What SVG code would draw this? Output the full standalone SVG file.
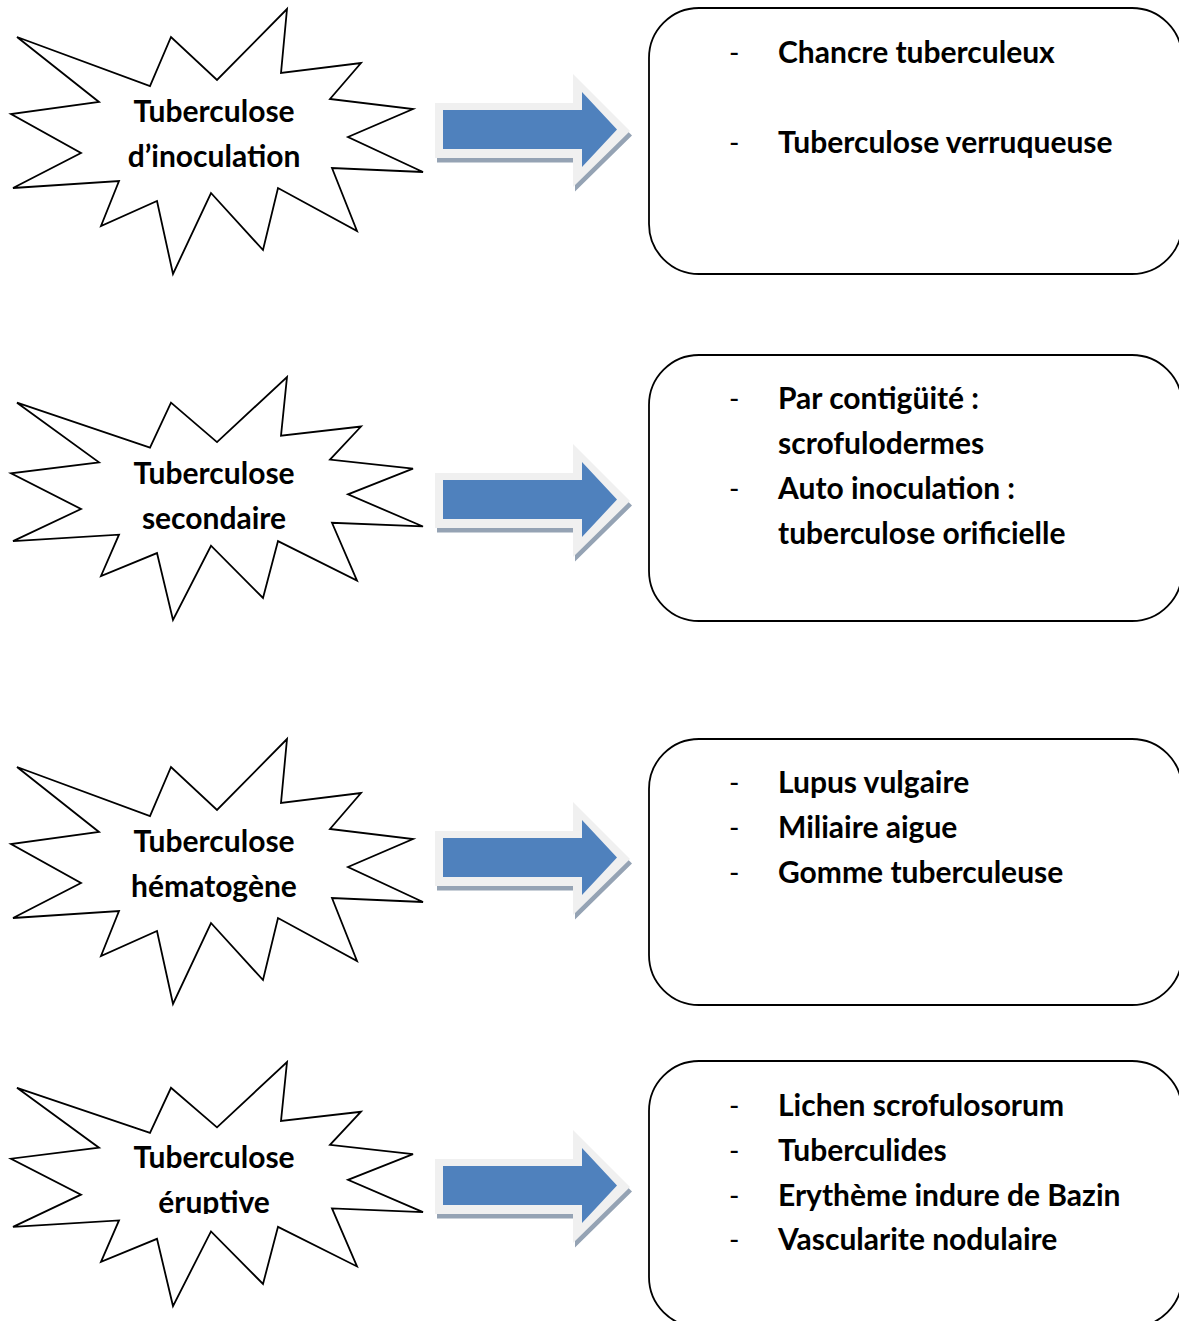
<svg xmlns="http://www.w3.org/2000/svg" xmlns:xlink="http://www.w3.org/1999/xlink" width="1179" height="1321" viewBox="0 0 1179 1321">
<style>
.star{fill:#fff;stroke:#000;stroke-width:1.8;stroke-linejoin:miter;vector-effect:non-scaling-stroke}
.box{fill:#fff;stroke:#000;stroke-width:1.8}
.t{font-family:Lato,"Open Sans","Liberation Sans",sans-serif;font-weight:700;font-size:30px;fill:#000}
.c{text-anchor:middle}
.d{font-family:Lato,"Liberation Sans",sans-serif;font-weight:400;font-size:28px;fill:#000}
.sh{fill:#95a3b4}
.ol{fill:#f0f0f0}
.bl{fill:#4f81bd}
</style>
<defs>
<polygon id="starShape" class="star" points="17,37 150,86 171,37 217,80 287,9 281,73 361,63 330,99 413,109 348,137 423,172 332,168 357,231 278,188 263,250 211,193 173,274 157,201 101,226 119,181 13,188 81,153 11,114 99,102"/>
<g id="arrowShape">
<polygon class="sh" points="437,107.5 575,107.5 575,78.5 632,135.5 575,191.5 575,162.5 437,162.5"/>
<polygon class="ol" points="435,103 573,103 573,74 630,131 573,187 573,158 435,158"/>
<polygon class="bl" points="443,110 582,110 582,92 617,129.5 582,167 582,149 443,149"/>
</g>
<clipPath id="clipErupt"><rect x="0" y="1000" width="430" height="214"/></clipPath>
</defs>
<rect width="1179" height="1321" fill="#fff"/>

<g id="connectors">
<use xlink:href="#arrowShape" href="#arrowShape"/>
<use xlink:href="#arrowShape" href="#arrowShape" transform="translate(0,370)"/>
<use xlink:href="#arrowShape" href="#arrowShape" transform="translate(0,728)"/>
<use xlink:href="#arrowShape" href="#arrowShape" transform="translate(0,1056)"/>
</g>

<g id="star-inoculation">
<use xlink:href="#starShape" href="#starShape"/>
<text class="t c" x="214" y="122">Tuberculose</text>
<text class="t c" x="214" y="167">d’inoculation</text>
</g>
<g id="star-secondaire">
<use xlink:href="#starShape" href="#starShape" transform="translate(0,377) scale(1,0.917) translate(0,-9)"/>
<text class="t c" x="214" y="484">Tuberculose</text>
<text class="t c" x="214" y="529">secondaire</text>
</g>
<g id="star-hematogene">
<use xlink:href="#starShape" href="#starShape" transform="translate(0,730)"/>
<text class="t c" x="214" y="852">Tuberculose</text>
<text class="t c" x="214" y="897">hématogène</text>
</g>
<g id="star-eruptive">
<use xlink:href="#starShape" href="#starShape" transform="translate(0,1062) scale(1,0.921) translate(0,-9)"/>
<text class="t c" x="214" y="1168">Tuberculose</text>
<text class="t c" x="214" y="1213" clip-path="url(#clipErupt)">éruptive</text>
</g>

<g id="box-inoculation">
<rect class="box" x="649" y="8" width="533" height="266" rx="50" ry="50"/>
<text class="d" x="729" y="63">-</text>
<text class="t" x="778" y="63">Chancre tuberculeux</text>
<text class="d" x="729" y="153">-</text>
<text class="t" x="778" y="153">Tuberculose verruqueuse</text>
</g>
<g id="box-secondaire">
<rect class="box" x="649" y="355" width="533" height="266" rx="50" ry="50"/>
<text class="d" x="729" y="409">-</text>
<text class="t" x="778" y="409">Par contigüité :</text>
<text class="t" x="778" y="454">scrofulodermes</text>
<text class="d" x="729" y="499">-</text>
<text class="t" x="778" y="499">Auto inoculation :</text>
<text class="t" x="778" y="544">tuberculose orificielle</text>
</g>
<g id="box-hematogene">
<rect class="box" x="649" y="739" width="533" height="266" rx="50" ry="50"/>
<text class="d" x="729" y="793">-</text>
<text class="t" x="778" y="793">Lupus vulgaire</text>
<text class="d" x="729" y="838">-</text>
<text class="t" x="778" y="838">Miliaire aigue</text>
<text class="d" x="729" y="883">-</text>
<text class="t" x="778" y="883">Gomme tuberculeuse</text>
</g>
<g id="box-eruptive">
<rect class="box" x="649" y="1061" width="533" height="266" rx="50" ry="50"/>
<text class="d" x="729" y="1116">-</text>
<text class="t" x="778" y="1116">Lichen scrofulosorum</text>
<text class="d" x="729" y="1161">-</text>
<text class="t" x="778" y="1161">Tuberculides</text>
<text class="d" x="729" y="1206">-</text>
<text class="t" x="778" y="1206">Erythème indure de Bazin</text>
<text class="d" x="729" y="1250">-</text>
<text class="t" x="778" y="1250">Vascularite nodulaire</text>
</g>
</svg>
